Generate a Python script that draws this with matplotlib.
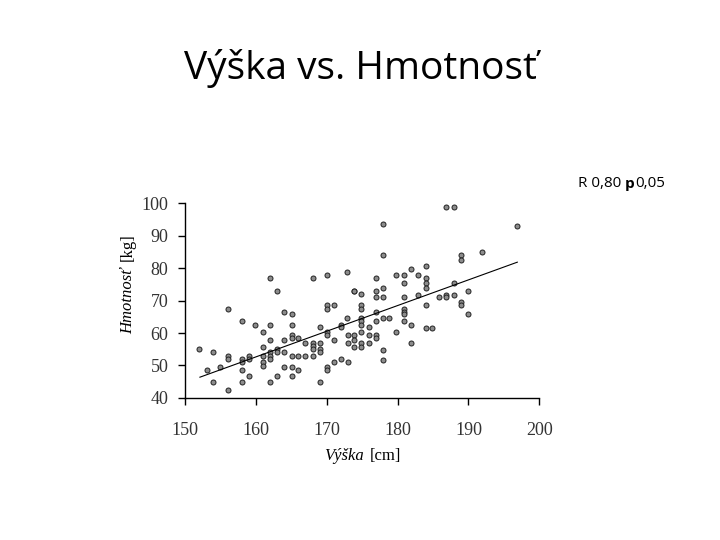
import matplotlib.pyplot as plt

# height [cm] and weight [kg]
vyska = [186.9, 188.0, 177.9, 196.9, 177.9, 188.9, 188.9, 191.9, 181.9, 184.0,
         179.8, 180.9, 182.9, 177.0, 184.0, 184.0, 180.9, 188.0, 177.9, 184.0,
         173.9, 174.9, 177.0, 190.0, 182.9, 188.0, 186.9, 186.9, 185.9, 177.0,
         177.9, 180.9, 162.0, 163.0, 168.0, 170.0, 172.9, 173.8, 156.0, 164.0,
         165.1, 170.0, 170.0, 171.0, 158.0, 159.9, 162.0, 165.1, 169.1, 172.0,
         172.0, 172.8, 161.0, 165.1, 165.1, 162.0, 164.0, 166.0, 170.0, 170.0,
         171.0, 173.0, 173.8, 173.8, 173.8, 173.0, 166.9, 168.0, 168.0, 168.0,
         168.0, 169.0, 169.0, 169.0, 152.0, 153.9, 156.0, 156.0, 158.0, 158.0,
         159.0, 159.0, 161.0, 161.0, 161.0, 161.0, 162.0, 162.0, 162.0, 163.0,
         163.0, 164.0, 165.1, 166.0, 166.9, 154.9, 153.1, 158.0, 159.0, 164.0,
         165.1, 166.0, 165.1, 163.0, 170.0, 170.0, 171.0, 172.0, 173.0, 153.9,
         158.0, 162.0, 169.1, 156.0, 174.9, 174.9, 184.0, 188.9, 188.9, 190.0,
         180.9, 180.9, 180.9, 180.9, 177.0, 174.9, 174.9, 174.9, 177.9, 178.8,
         177.0, 181.9, 174.9, 175.9, 175.9, 177.0, 177.0, 179.8, 184.0, 184.8,
         174.9, 174.9, 175.9, 181.9, 177.9, 177.9]
hmotnost = [98.9, 98.9, 93.7, 92.8, 83.9, 83.9, 82.5, 84.8, 79.8, 80.7,
            77.7, 77.7, 77.7, 76.8, 76.8, 75.5, 75.5, 75.5, 73.7, 73.7,
            72.8, 72.0, 72.8, 72.8, 71.8, 71.8, 71.8, 71.0, 71.0, 71.0,
            71.0, 71.0, 76.8, 72.8, 76.8, 77.7, 78.8, 72.8, 67.5, 66.6,
            65.7, 68.6, 67.5, 68.6, 63.8, 62.6, 62.6, 62.6, 61.7, 62.6,
            61.7, 64.7, 60.4, 59.5, 58.6, 57.7, 57.7, 58.6, 60.4, 59.5,
            57.7, 59.5, 59.5, 57.7, 55.8, 57.0, 57.0, 57.0, 56.0, 55.0,
            52.9, 57.0, 55.0, 54.0, 55.0, 54.0, 52.9, 51.9, 51.9, 51.1,
            52.9, 51.9, 55.8, 52.9, 51.1, 49.9, 54.0, 52.9, 51.9, 55.0,
            54.0, 54.0, 52.9, 52.9, 52.9, 49.6, 48.6, 48.6, 46.9, 49.6,
            49.6, 48.6, 46.9, 46.9, 49.6, 48.6, 51.1, 51.9, 51.1, 45.0,
            45.0, 45.0, 45.0, 42.6, 68.6, 67.5, 68.6, 69.6, 68.6, 65.7,
            67.5, 66.6, 65.7, 63.8, 66.6, 64.7, 63.8, 62.6, 64.7, 64.7,
            63.8, 62.6, 60.4, 61.7, 59.5, 59.5, 58.6, 60.4, 61.5, 61.5,
            57.0, 55.8, 57.0, 57.0, 54.8, 51.8]

# regression line end points
trend_x = [152.1, 196.9]
trend_y = [46.4, 81.8]

x_ticks = [150, 160, 170, 180, 190, 200]
y_ticks = [40, 50, 60, 70, 80, 90, 100]

serif = 'Liberation Serif'

fig = plt.figure(figsize=(7.2, 5.4), dpi=100)
ax = fig.add_axes([0.257, 0.263, 0.492, 0.361])

ax.plot(vyska, hmotnost, 'o', ms=3.6, mfc='#8c8c8c', mec='#222222', mew=0.7, ls='none')
ax.plot(trend_x, trend_y, color='black', lw=0.8)

ax.set_xlim(150, 200)
ax.set_ylim(40, 100)
ax.set_xticks(x_ticks)
ax.set_yticks(y_ticks)
for s in ['top', 'right']:
    ax.spines[s].set_visible(False)
for s in ['left', 'bottom']:
    ax.spines[s].set_linewidth(1.0)
ax.tick_params(direction='out', length=5, width=1, labelsize=13, pad=7,
               labelcolor='#333333')
for lbl in ax.get_xticklabels() + ax.get_yticklabels():
    lbl.set_fontfamily(serif)
ax.tick_params(axis='x', pad=12)

# title
fig.text(0.5, 0.873, 'Výška vs. Hmotnosť', ha='center', va='center',
         fontsize=28, family='Open Sans')

# note in the top right, "p" in bold
t1 = fig.text(578 / 720, 0.66, 'R 0,80 ', ha='left', va='center', fontsize=11,
              family='Open Sans')
t2 = ax.annotate('p', xy=(1, 0), xycoords=t1, ha='left', va='bottom',
                 fontsize=11, family='Open Sans', fontweight='bold',
                 annotation_clip=False)
ax.annotate('0,05', xy=(1, 0), xycoords=t2, ha='left', va='bottom',
            fontsize=11, family='Open Sans', annotation_clip=False)

# axis labels with italic part
fig.text(364 / 720, 0.156, 'Výška', ha='right', va='center', fontsize=12,
         family=serif, style='italic')
fig.text(370 / 720, 0.156, '[cm]', ha='left', va='center', fontsize=12, family=serif)
fig.text(128 / 720, 0.505, 'Hmotnosť', ha='center', va='top', rotation=90,
         fontsize=12, family=serif, style='italic')
fig.text(128 / 720, 0.516, '[kg]', ha='center', va='bottom', rotation=90,
         fontsize=12, family=serif)

fig.savefig('out.png', dpi=100)
